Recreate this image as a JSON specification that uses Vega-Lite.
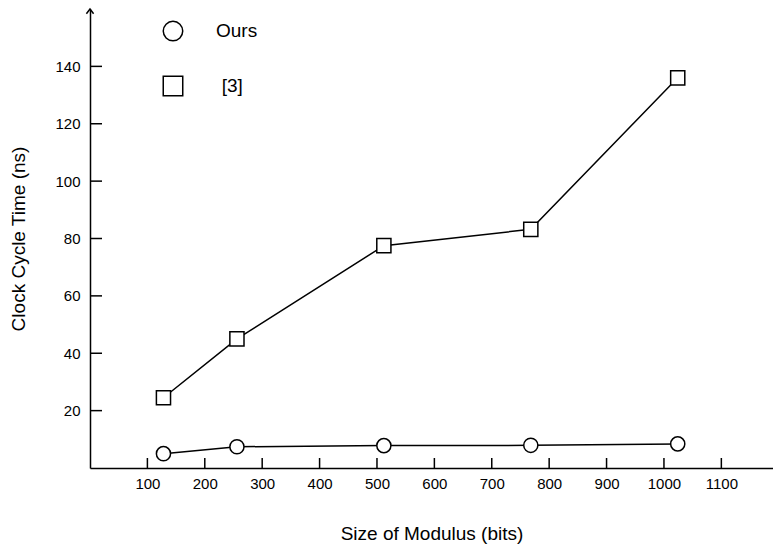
{
  "$schema": "https://vega.github.io/schema/vega-lite/v6.json",
  "width": 683,
  "height": 459,
  "autosize": {"type": "none"},
  "padding": {"left": 90, "top": 9, "right": 0, "bottom": 80},
  "background": "white",
  "config": {
    "view": {"stroke": null},
    "font": "Liberation Sans",
    "axis": {
      "grid": false,
      "domainColor": "#000000",
      "tickColor": "#000000",
      "labelColor": "#000000",
      "titleColor": "#000000",
      "domainWidth": 1.5,
      "tickWidth": 1.5,
      "labelFontSize": 15,
      "titleFontSize": 19,
      "titleFontWeight": "normal",
      "labelFont": "Liberation Sans",
      "titleFont": "Liberation Sans"
    }
  },
  "datasets": {
    "main": [
      {"series": "Ours", "bits": 128, "time": 5.0},
      {"series": "Ours", "bits": 256, "time": 7.4},
      {"series": "Ours", "bits": 512, "time": 7.8},
      {"series": "Ours", "bits": 768, "time": 7.9},
      {"series": "Ours", "bits": 1024, "time": 8.4},
      {"series": "[3]", "bits": 128, "time": 24.5},
      {"series": "[3]", "bits": 256, "time": 45.0},
      {"series": "[3]", "bits": 512, "time": 77.5},
      {"series": "[3]", "bits": 768, "time": 83.2},
      {"series": "[3]", "bits": 1024, "time": 136}
    ],
    "legend": [
      {"series": "Ours", "bits": 144.6, "time": 152.3, "tx": 219.5},
      {"series": "[3]", "bits": 144.6, "time": 133.2, "tx": 229.5}
    ],
    "arrow": [
      {"bits": 0, "time": 160}
    ],
    "xticks": [
      {"bits": 100, "time": 0}, {"bits": 200, "time": 0}, {"bits": 300, "time": 0},
      {"bits": 400, "time": 0}, {"bits": 500, "time": 0}, {"bits": 600, "time": 0},
      {"bits": 700, "time": 0}, {"bits": 800, "time": 0}, {"bits": 900, "time": 0},
      {"bits": 1000, "time": 0}, {"bits": 1100, "time": 0}
    ],
    "yticks": [
      {"bits": 0, "time": 20}, {"bits": 0, "time": 40}, {"bits": 0, "time": 60},
      {"bits": 0, "time": 80}, {"bits": 0, "time": 100}, {"bits": 0, "time": 120},
      {"bits": 0, "time": 140}
    ]
  },
  "encoding": {
    "x": {
      "field": "bits",
      "type": "quantitative",
      "scale": {"domain": [0, 1190], "nice": false, "zero": false},
      "axis": {
        "orient": "bottom",
        "values": [100, 200, 300, 400, 500, 600, 700, 800, 900, 1000, 1100],
        "format": "d",
        "ticks": false,
        "labelPadding": 8,
        "title": "Size of Modulus (bits)",
        "titlePadding": 33
      }
    },
    "y": {
      "field": "time",
      "type": "quantitative",
      "scale": {"domain": [0, 160], "nice": false},
      "axis": {
        "orient": "left",
        "values": [20, 40, 60, 80, 100, 120, 140],
        "ticks": false,
        "labelPadding": 10,
        "title": "Clock Cycle Time (ns)",
        "titlePadding": 26
      }
    }
  },
  "layer": [
    {
      "data": {"name": "xticks"},
      "mark": {"type": "point", "shape": "M0,0L0,-1", "size": 400, "filled": false, "stroke": "black", "strokeWidth": 1.5, "opacity": 1}
    },
    {
      "data": {"name": "yticks"},
      "mark": {"type": "point", "shape": "M0,0L1,0", "size": 576, "filled": false, "stroke": "black", "strokeWidth": 1.5, "opacity": 1}
    },
    {
      "data": {"name": "main"},
      "mark": {"type": "line", "color": "black", "strokeWidth": 1.5},
      "encoding": {"detail": {"field": "series"}}
    },
    {
      "data": {"name": "main"},
      "mark": {"type": "point", "filled": true, "fill": "white", "stroke": "black", "strokeWidth": 1.5, "size": 200, "opacity": 1},
      "encoding": {
        "shape": {
          "field": "series",
          "type": "nominal",
          "scale": {"domain": ["Ours", "[3]"], "range": ["circle", "square"]},
          "legend": null
        }
      }
    },
    {
      "data": {"name": "arrow"},
      "mark": {"type": "point", "shape": "M-0.6,0.8L0,0L0.6,0.8", "size": 144, "filled": false, "stroke": "black", "strokeWidth": 1.5, "opacity": 1}
    },
    {
      "data": {"name": "legend"},
      "mark": {"type": "point", "filled": true, "fill": "white", "stroke": "black", "strokeWidth": 1.5, "size": 380, "opacity": 1},
      "encoding": {
        "shape": {
          "field": "series",
          "type": "nominal",
          "scale": {"domain": ["Ours", "[3]"], "range": ["circle", "square"]},
          "legend": null
        }
      }
    },
    {
      "data": {"name": "legend"},
      "mark": {"type": "text", "align": "left", "baseline": "middle", "fontSize": 19, "font": "Liberation Sans", "color": "black"},
      "encoding": {
        "x": {"field": "tx", "type": "quantitative"},
        "text": {"field": "series", "type": "nominal"}
      }
    }
  ]
}
